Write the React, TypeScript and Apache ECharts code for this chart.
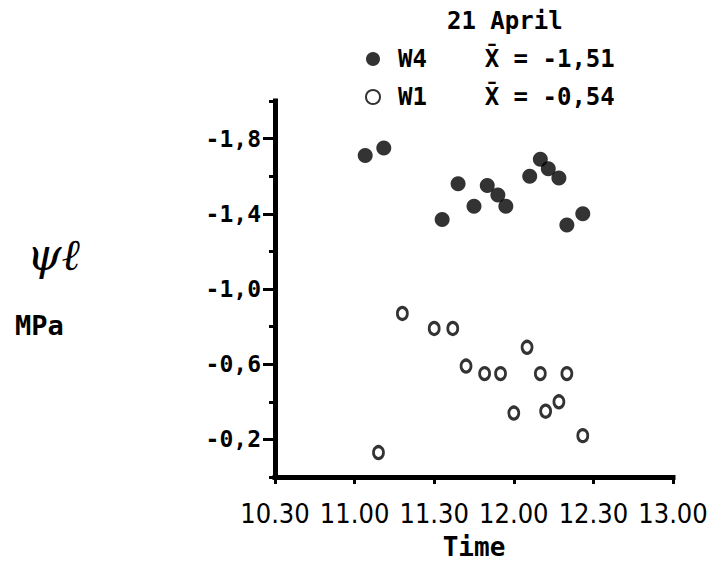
import React, { useEffect, useRef } from "react";
import * as echarts from "echarts";

// ---- data ----
const w4Times = ["11:04", "11:11", "11:33", "11:39", "11:45", "11:50", "11:54", "11:57", "12:06", "12:10", "12:13", "12:17", "12:20", "12:26"];
const w4Psi = [-1.71, -1.75, -1.37, -1.56, -1.44, -1.55, -1.5, -1.44, -1.6, -1.69, -1.64, -1.59, -1.34, -1.4];

const w1Times = ["11:09", "11:18", "11:30", "11:37", "11:42", "11:49", "11:55", "12:00", "12:05", "12:10", "12:12", "12:17", "12:20", "12:26"];
const w1Psi = [-0.13, -0.87, -0.79, -0.79, -0.59, -0.55, -0.55, -0.34, -0.69, -0.55, -0.35, -0.4, -0.55, -0.22];

const seriesNames = ["W4", "W1"];
const seriesMeans = ["-1,51", "-0,54"];
const titleText = "21 April";
const yMajorTicks = [-1.8, -1.4, -1.0, -0.6, -0.2];
const xTickLabels = ["10.30", "11.00", "11.30", "12.00", "12.30", "13.00"];

const MONO = "'DejaVu Sans Mono', 'Liberation Mono', monospace";
const NARROW = "'Liberation Sans Narrow', 'DejaVu Sans Condensed', 'Liberation Sans', sans-serif";

function toHours(t: string): number {
  const [h, m] = t.split(":").map(Number);
  return h + m / 60;
}

function pairs(times: string[], vals: number[]) {
  return times.map((t, i) => [toHours(t), vals[i]]);
}

export default function App() {
  const ref = useRef<HTMLDivElement>(null);
  useEffect(() => {
    if (!ref.current) return;
    const chart = echarts.init(ref.current, undefined, { renderer: "svg" });
    const black = "#000";
    const option: any = {
      animation: false,
      backgroundColor: "#fff",
      title: {
        text: titleText,
        left: 447,
        top: 9,
        padding: 0,
        textStyle: { fontFamily: MONO, fontSize: 24, fontWeight: "bold", color: black },
      },
      legend: {
        orient: "vertical",
        left: 365,
        top: 47,
        padding: 0,
        itemWidth: 40,
        itemHeight: 14,
        itemGap: 14,
        selectedMode: false,
        data: seriesNames,
        formatter: (name: string) => `${name}    X\u0304 = ${seriesMeans[seriesNames.indexOf(name)]}`,
        textStyle: { fontFamily: MONO, fontSize: 24, fontWeight: "bold", lineHeight: 24, color: black },
      },
      grid: { left: 275, top: 101, width: 398, height: 376, containLabel: false },
      xAxis: {
        type: "value",
        min: 10.5,
        max: 13,
        interval: 0.5,
        name: "Time",
        nameLocation: "middle",
        nameGap: 57,
        nameTextStyle: { fontFamily: MONO, fontSize: 26, fontWeight: "bold", color: black },
        axisLine: { onZero: false, lineStyle: { color: black, width: 5, cap: "square" } },
        axisTick: { length: 7, lineStyle: { color: black, width: 3 } },
        axisLabel: {
          color: black,
          fontFamily: NARROW,
          fontSize: 27,
          fontWeight: "normal",
          margin: 23,
          formatter: (v: number) => {
            const i = Math.round((v - 10.5) / 0.5);
            return xTickLabels[i] ?? "";
          },
        },
        splitLine: { show: false },
      },
      yAxis: [
        {
          type: "value",
          position: "left",
          inverse: true,
          min: -2,
          max: 0,
          interval: 0.2,
          axisLine: { onZero: false, lineStyle: { color: black, width: 5, cap: "square" } },
          axisTick: { show: true, customValues: yMajorTicks, length: 12, lineStyle: { color: black, width: 3 } },
          axisLabel: {
            customValues: yMajorTicks,
            color: black,
            fontFamily: MONO,
            fontSize: 23,
            fontWeight: "bold",
            margin: 14,
            formatter: (v: number) =>
              yMajorTicks.some((t) => Math.abs(t - v) < 1e-6) ? v.toFixed(1).replace(".", ",") : "",
          },
          splitLine: { show: false },
        },
        {
          type: "value",
          position: "left",
          offset: 0,
          inverse: true,
          min: -2,
          max: 0,
          interval: 0.2,
          axisLine: { show: false },
          axisTick: { show: true, length: 6, lineStyle: { color: black, width: 3 } },
          axisLabel: { show: false },
          splitLine: { show: false },
        },
      ],
      graphic: [
        {
          type: "text",
          left: 27,
          top: 232,
          style: { text: "ψℓ", font: "italic 44px 'DejaVu Serif', serif", fill: black },
        },
        {
          type: "text",
          left: 15,
          top: 312,
          style: { text: "MPa", font: `bold 27px ${MONO}`, fill: black },
        },
      ],
      series: [
        {
          name: seriesNames[0],
          type: "scatter",
          yAxisIndex: 0,
          symbol: "circle",
          symbolSize: 15,
          itemStyle: { color: black },
          data: pairs(w4Times, w4Psi),
        },
        {
          name: seriesNames[1],
          type: "scatter",
          yAxisIndex: 0,
          symbol: "circle",
          symbolSize: [10, 12],
          itemStyle: { color: "#fff", borderColor: black, borderWidth: 3 },
          data: pairs(w1Times, w1Psi),
        },
      ],
    };
    chart.setOption(option);
    return () => chart.dispose();
  }, []);
  return (
    <div
      ref={ref}
      style={{ position: "fixed", left: 0, top: 0, width: 718, height: 566, background: "#fff" }}
    />
  );
}
